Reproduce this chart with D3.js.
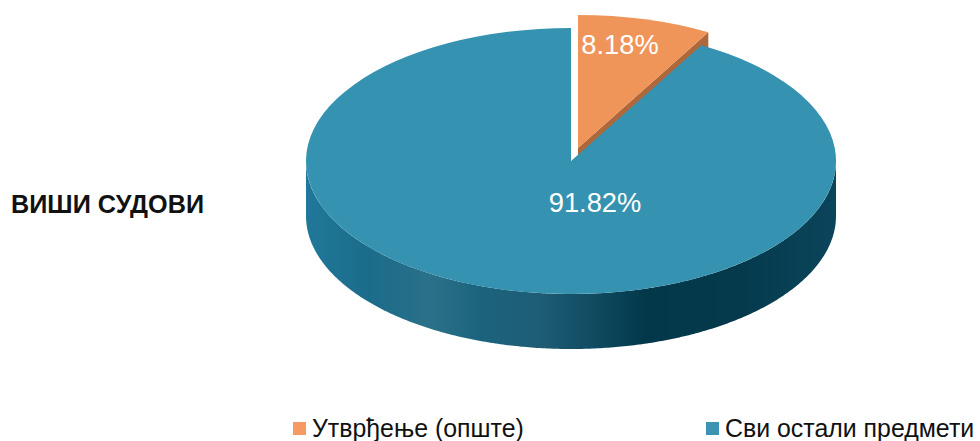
<!DOCTYPE html>
<html><head><meta charset="utf-8">
<script src="https://cdn.jsdelivr.net/npm/d3@7"></script>
<style>html,body{margin:0;padding:0;background:#fff}svg{display:block}text{font-family:"Liberation Sans",Arial,sans-serif}</style>
</head><body><svg id="c" width="980" height="441"></svg>
<script>
const categories = ["Утврђење (опште)", "Сви остали предмети"];
const values = [8.18, 91.82];
const rowLabel = "ВИШИ СУДОВИ";
const topColors = ["#F0955A", "#3592B0"];
const legendColors = ["#F49A62", "#3A94B2"];
const wallStops = [[0,"#20789a"],[0.12,"#1b6c8a"],[0.24,"#2b7089"],[0.33,"#1b637d"],[0.44,"#1f5d75"],[0.55,"#0e4a60"],[0.64,"#03384a"],[0.82,"#053a4d"],[1,"#0b455b"]];

const W=980,H=441, cx=571, cy=161, rx=265, ry=133, depth=55, explode=[7,-13];
const svg=d3.select("#c");
const defs=svg.append("defs");
const grad=defs.append("linearGradient").attr("id","wall").attr("gradientUnits","userSpaceOnUse")
  .attr("x1",-rx).attr("x2",rx).attr("y1",0).attr("y2",0);
wallStops.forEach(s=>grad.append("stop").attr("offset",s[0]).attr("stop-color",s[1]));

const pie=d3.pie().sort(null).value(d=>d)(values);
const arc=d3.arc().innerRadius(0).outerRadius(rx);
const k=ry/rx;
const xOf=a=>rx*Math.sin(a), yOf=a=>-ry*Math.cos(a);
const blue=pie[1], orange=pie[0];

// exploded slice (behind the main slice)
const og=svg.append("g").attr("transform",`translate(${cx+explode[0]},${cy+explode[1]})`);
const a1=orange.endAngle;
const cut=d3.area().x(t=>t*xOf(a1)).y0(t=>t*yOf(a1)).y1(t=>t*yOf(a1)+depth);
og.append("path").attr("d",cut([0,1])).attr("fill","#B0683A");
og.append("path").attr("d",arc(orange)).attr("transform",`scale(1,${k})`).attr("fill",topColors[0]);

// main slice: outer wall, then top
const g=svg.append("g").attr("transform",`translate(${cx},${cy})`);
const aStart=Math.max(blue.startAngle,Math.PI/2), aEnd=Math.min(blue.endAngle,Math.PI*1.5);
const wallArea=d3.area().x(xOf).y0(yOf).y1(a=>yOf(a)+depth);
g.append("path").attr("d",wallArea(d3.range(aStart,aEnd,0.01).concat([aEnd]))).attr("fill","url(#wall)");
g.append("path").attr("d",arc(blue)).attr("transform",`scale(1,${k})`).attr("fill",topColors[1]);

// data labels
svg.append("text").attr("x",620).attr("y",54).attr("text-anchor","middle").attr("font-size",27.3).attr("fill","#fff").text(values[0].toFixed(2)+"%");
svg.append("text").attr("x",595).attr("y",212).attr("text-anchor","middle").attr("font-size",27.3).attr("fill","#fff").text(values[1].toFixed(2)+"%");

// row label
svg.append("text").attr("x",11).attr("y",213).attr("font-size",25.2).attr("font-weight","bold").attr("textLength",193).attr("fill","#111").text(rowLabel);

// legend
const lx=[293,706];
categories.forEach((c,i)=>{
  svg.append("rect").attr("x",lx[i]).attr("y",422).attr("width",13).attr("height",13).attr("fill",legendColors[i]);
  svg.append("text").attr("x",lx[i]+19).attr("y",437).attr("font-size",24.9).attr("fill","#111").text(c);
});
</script></body></html>
